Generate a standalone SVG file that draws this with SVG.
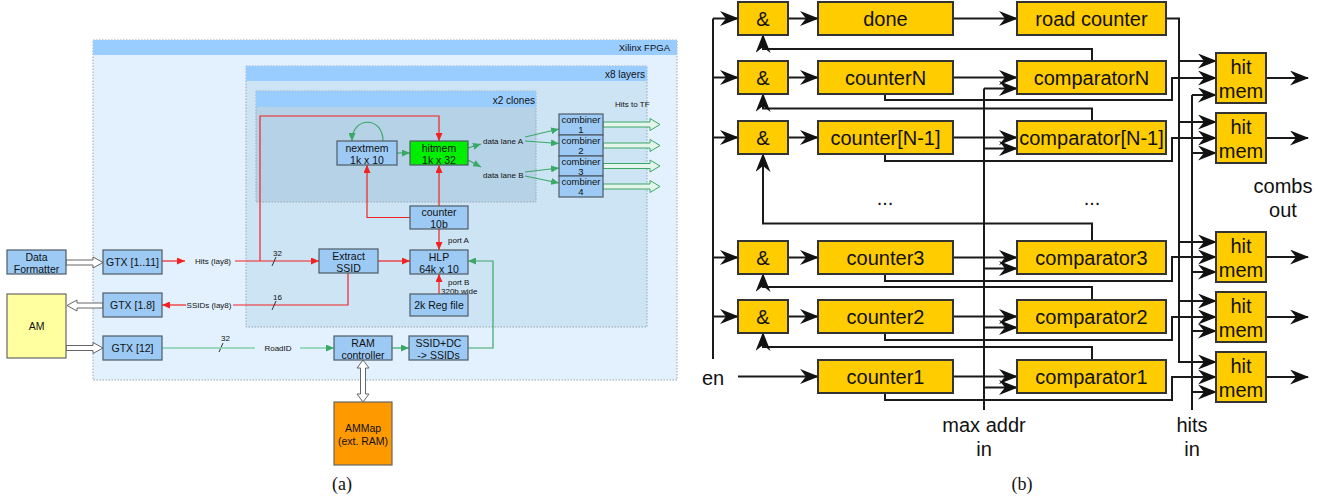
<svg xmlns="http://www.w3.org/2000/svg" width="1330" height="501" viewBox="0 0 1330 501">
<defs>
<style>
.t{font-family:"Liberation Sans",Arial,sans-serif;fill:#111}
.s10{font-size:10.5px;text-anchor:middle}
.s9{font-size:9.5px;text-anchor:middle}
.s8{font-size:8px}
.s20{font-size:20px;text-anchor:middle}
.blk{fill:#9ccaf5;stroke:#4f5b66;stroke-width:1.2}
.cont{stroke:#9aa6b0;stroke-width:1;stroke-dasharray:1.5,1.5}
.hdr{fill:#99ccff}
.red{fill:none;stroke:#f22222;stroke-width:1.2}
.grn{fill:none;stroke:#3aa866;stroke-width:1.2}
.lgr{fill:none;stroke:#80d0aa;stroke-width:1.6}
.dark{fill:none;stroke:#333;stroke-width:1}
.hol{fill:#fff;stroke:#666;stroke-width:1}
.holg{fill:#e6f5ec;stroke:#3aa866;stroke-width:1}
.yb{fill:#ffcc00;stroke:#333;stroke-width:2}
.bl{fill:none;stroke:#1a1a1a;stroke-width:2}
.cap{font-family:"Liberation Serif","Times New Roman",serif;font-size:18px;text-anchor:middle;fill:#111}
</style>
<marker id="ar" markerUnits="userSpaceOnUse" markerWidth="8" markerHeight="7" refX="8" refY="3.5" orient="auto"><path d="M0,0 L8,3.5 L0,7 z" fill="#f22222"/></marker>
<marker id="ag" markerUnits="userSpaceOnUse" markerWidth="8" markerHeight="7" refX="8" refY="3.5" orient="auto"><path d="M0,0 L8,3.5 L0,7 z" fill="#3aa866"/></marker>
<marker id="ab" markerUnits="userSpaceOnUse" markerWidth="19" markerHeight="15" refX="18" refY="7.5" orient="auto"><path d="M0,0 L19,7.5 L0,15 L6,7.5 z" fill="#111"/></marker>
</defs>
<rect width="1330" height="501" fill="#fff"/>

<!-- ===== (a) containers ===== -->
<g id="fpga">
<rect x="93" y="40" width="584" height="340" fill="#e2f1fd" class="cont"/>
<rect x="93" y="40" width="584" height="15" class="hdr"/>
<text class="t" x="670" y="51" font-size="9.5" text-anchor="end">Xilinx FPGA</text>
</g>
<g id="x8layers">
<rect x="246" y="66" width="401" height="261" fill="#cce4f4" class="cont"/>
<rect x="246" y="66" width="401" height="15" class="hdr"/>
<text class="t" x="645" y="78" font-size="10" text-anchor="end">x8 layers</text>
</g>
<g id="x2clones">
<rect x="256" y="91" width="280" height="111" fill="#b5d2e6" class="cont"/>
<rect x="256" y="91" width="280" height="16" class="hdr"/>
<text class="t" x="535" y="103.5" font-size="10" text-anchor="end">x2 clones</text>
</g>

<!-- ===== (a) connectors ===== -->
<g id="connectors-a">
<path class="red" d="M162,261 H185" marker-end="url(#ar)"/>
<path class="red" d="M235,261 H319" marker-end="url(#ar)"/>
<path class="red" d="M260,261 V116 H439 V141" marker-end="url(#ar)"/>
<path class="red" d="M378,261 H410" marker-end="url(#ar)"/>
<path class="red" d="M348,273 V305 H233"/>
<path class="red" d="M186,305 H162" marker-end="url(#ar)"/>
<path class="red" d="M439,229 V250" marker-end="url(#ar)"/>
<path class="red" d="M439,206 V165" marker-end="url(#ar)"/>
<path class="red" d="M410,217.5 H367 V165" marker-end="url(#ar)"/>
<path class="red" d="M439,294 V274" marker-end="url(#ar)"/>
<path class="dark" d="M272,266 L276,257"/>
<path class="dark" d="M272,310 L276,301"/>
<path class="dark" d="M219,352 L223,343"/>
<path class="grn" d="M397,153 H410" marker-end="url(#ag)"/>
<path class="grn" d="M383,141 C383,116 352,116 352,141" marker-end="url(#ag)"/>
<path class="grn" d="M468,148 L481,144" marker-end="url(#ag)"/>
<path class="grn" d="M468,160 L481,167" marker-end="url(#ag)"/>
<path class="grn" d="M525,137 L559,129" marker-end="url(#ag)"/>
<path class="grn" d="M525,141 L559,143.5" marker-end="url(#ag)"/>
<path class="grn" d="M525,172 L559,168" marker-end="url(#ag)"/>
<path class="grn" d="M525,176 L559,183" marker-end="url(#ag)"/>
<path class="grn" d="M468,348 H493 V261 H468" marker-end="url(#ag)"/>
<path class="grn" d="M392,348 H409" marker-end="url(#ag)"/>
<path class="lgr" d="M162,348 H255"/>
<path class="lgr" d="M300,348 H334" marker-end="url(#ag)"/>
<polygon class="hol" points="66,260 93,260 93,257 103,262.5 93,268 93,265 66,265"/>
<polygon class="hol" points="103,303 77,303 77,300 67,305.5 77,311 77,308 103,308"/>
<polygon class="hol" points="66,345.5 93,345.5 93,342.5 103,348 93,353.5 93,350.5 66,350.5"/>
<polygon class="hol" points="363,360 369,368 365.5,368 365.5,394 369,394 363,402 357,394 360.5,394 360.5,368 357,368"/>
<polygon class="holg" points="603,122 650,122 650,118.5 660,124.5 650,130.5 650,127 603,127"/>
<polygon class="holg" points="603,143 650,143 650,139.5 660,145.5 650,151.5 650,148 603,148"/>
<polygon class="holg" points="603,163.5 650,163.5 650,160 660,166 650,172 650,168.5 603,168.5"/>
<polygon class="holg" points="603,184 650,184 650,180.5 660,186.5 650,192.5 650,189 603,189"/>
<text class="t s8" x="213" y="264" text-anchor="middle">Hits (lay8)</text>
<text class="t s8" x="209" y="308" text-anchor="middle">SSIDs (lay8)</text>
<text class="t s8" x="278" y="351" text-anchor="middle">RoadID</text>
<text class="t s8" x="273" y="256">32</text>
<text class="t s8" x="273" y="300">16</text>
<text class="t s8" x="221" y="341">32</text>
<text class="t s8" x="448" y="243">port A</text>
<text class="t s8" x="448" y="285">port B</text>
<text class="t s8" x="441" y="294">320b wide</text>
<text class="t s8" x="483" y="144">data lane A</text>
<text class="t s8" x="483" y="178">data lane B</text>
<text class="t s8" x="615" y="107">Hits to TF</text>
</g>

<!-- ===== (a) nodes ===== -->
<g id="dataformatter"><rect class="blk" x="7" y="250" width="59" height="24"/><text class="t s10" x="36.5" y="260.5">Data</text><text class="t s10" x="36.5" y="272.5">Formatter</text></g>
<g id="gtx1-11"><rect class="blk" x="103" y="250" width="59" height="24"/><text class="t s10" x="132.5" y="266">GTX [1..11]</text></g>
<g id="am"><rect x="7" y="294" width="59" height="64" fill="#ffffa0" stroke="#666" stroke-width="1.2"/><text class="t s10" x="36.5" y="330">AM</text></g>
<g id="gtx1-8"><rect class="blk" x="103" y="293" width="59" height="24"/><text class="t s10" x="132.5" y="309">GTX [1.8]</text></g>
<g id="gtx12"><rect class="blk" x="103" y="336" width="59" height="24"/><text class="t s10" x="132.5" y="352">GTX [12]</text></g>
<g id="extractssid"><rect class="blk" x="319" y="249" width="59" height="24"/><text class="t s10" x="348.5" y="259.5">Extract</text><text class="t s10" x="348.5" y="271.5">SSID</text></g>
<g id="hlp"><rect class="blk" x="410" y="250" width="58" height="24"/><text class="t s10" x="439" y="260.5">HLP</text><text class="t s10" x="439" y="272.5">64k x 10</text></g>
<g id="regfile"><rect class="blk" x="410" y="294" width="58" height="22"/><text class="t s10" x="439" y="309">2k Reg file</text></g>
<g id="counter10b"><rect class="blk" x="410" y="206" width="58" height="23"/><text class="t s10" x="439" y="216">counter</text><text class="t s10" x="439" y="228">10b</text></g>
<g id="nextmem"><rect class="blk" x="337" y="141" width="60" height="24"/><text class="t s10" x="367" y="151.5">nextmem</text><text class="t s10" x="367" y="163.5">1k x 10</text></g>
<g id="hitmem"><rect x="410" y="141" width="58" height="24" fill="#00ee00" stroke="#4f5b66" stroke-width="1.2"/><text class="t s10" x="439" y="151.5">hitmem</text><text class="t s10" x="439" y="163.5">1k x 32</text></g>
<g id="ramcontroller"><rect class="blk" x="334" y="336" width="58" height="24"/><text class="t s10" x="363" y="346.5">RAM</text><text class="t s10" x="363" y="358.5">controller</text></g>
<g id="ssiddc"><rect class="blk" x="409" y="336" width="59" height="24"/><text class="t s10" x="438.5" y="346.5">SSID+DC</text><text class="t s10" x="438.5" y="358.5">-&gt; SSIDs</text></g>
<g id="ammap"><rect x="334" y="402" width="58" height="63" fill="#ff9900" stroke="#666" stroke-width="1.2"/><text class="t s10" x="363" y="432">AMMap</text><text class="t s10" x="363" y="444.5">(ext. RAM)</text></g>
<g id="combiner1"><rect class="blk" x="559" y="114" width="44" height="21"/><text class="t s9" x="581" y="122.5">combiner</text><text class="t s9" x="581" y="133">1</text></g>
<g id="combiner2"><rect class="blk" x="559" y="135" width="44" height="21"/><text class="t s9" x="581" y="143.5">combiner</text><text class="t s9" x="581" y="154">2</text></g>
<g id="combiner3"><rect class="blk" x="559" y="156" width="44" height="20"/><text class="t s9" x="581" y="164.5">combiner</text><text class="t s9" x="581" y="174.5">3</text></g>
<g id="combiner4"><rect class="blk" x="559" y="176" width="44" height="21"/><text class="t s9" x="581" y="184.5">combiner</text><text class="t s9" x="581" y="195">4</text></g>
<text class="cap" x="342" y="490">(a)</text>

<!-- ===== (b) connectors ===== -->
<g id="connectors-b">
<path class="bl" d="M713,18.5 V359"/>
<path class="bl" d="M713,18.5 H738" marker-end="url(#ab)"/>
<path class="bl" d="M713,77.5 H738" marker-end="url(#ab)"/>
<path class="bl" d="M713,137.5 H738" marker-end="url(#ab)"/>
<path class="bl" d="M713,257.5 H738" marker-end="url(#ab)"/>
<path class="bl" d="M713,316.5 H738" marker-end="url(#ab)"/>
<path class="bl" d="M738,376.5 H818" marker-end="url(#ab)"/>
<path class="bl" d="M788,18.5 H818" marker-end="url(#ab)"/>
<path class="bl" d="M788,77.5 H818" marker-end="url(#ab)"/>
<path class="bl" d="M788,137.5 H818" marker-end="url(#ab)"/>
<path class="bl" d="M788,257.5 H818" marker-end="url(#ab)"/>
<path class="bl" d="M788,316.5 H818" marker-end="url(#ab)"/>
<path class="bl" d="M953,18.5 H1017" marker-end="url(#ab)"/>
<path class="bl" d="M953,77.5 H1017" marker-end="url(#ab)"/>
<path class="bl" d="M953,137.5 H1017" marker-end="url(#ab)"/>
<path class="bl" d="M953,257.5 H1017" marker-end="url(#ab)"/>
<path class="bl" d="M953,316.5 H1017" marker-end="url(#ab)"/>
<path class="bl" d="M953,376.5 H1017" marker-end="url(#ab)"/>
<path class="bl" d="M984,88.5 V410"/>
<path class="bl" d="M984,88.5 H1017" marker-end="url(#ab)"/>
<path class="bl" d="M984,148.5 H1017" marker-end="url(#ab)"/>
<path class="bl" d="M984,268.5 H1017" marker-end="url(#ab)"/>
<path class="bl" d="M984,327.5 H1017" marker-end="url(#ab)"/>
<path class="bl" d="M984,387.5 H1017" marker-end="url(#ab)"/>
<path class="bl" d="M1092,61 V49 H763 V35" marker-end="url(#ab)"/>
<path class="bl" d="M1092,121 V108.5 H763 V94" marker-end="url(#ab)"/>
<path class="bl" d="M1092,241 V223.5 H763 V154" marker-end="url(#ab)"/>
<path class="bl" d="M1092,300 V287 H763 V274" marker-end="url(#ab)"/>
<path class="bl" d="M1092,360 V347 H763 V333" marker-end="url(#ab)"/>
<path class="bl" d="M885,94 V100 H1172 V78 H1216" marker-end="url(#ab)"/>
<path class="bl" d="M885,154 V161 H1172 V138 H1216" marker-end="url(#ab)"/>
<path class="bl" d="M885,274 V281 H1172 V257 H1216" marker-end="url(#ab)"/>
<path class="bl" d="M885,333 V340 H1172 V317 H1216" marker-end="url(#ab)"/>
<path class="bl" d="M885,393 V400 H1172 V377 H1216" marker-end="url(#ab)"/>
<path class="bl" d="M1166,18.5 H1179 V362 H1216" marker-end="url(#ab)"/>
<path class="bl" d="M1179,61 H1216" marker-end="url(#ab)"/>
<path class="bl" d="M1179,122 H1216" marker-end="url(#ab)"/>
<path class="bl" d="M1179,242 H1216" marker-end="url(#ab)"/>
<path class="bl" d="M1179,301 H1216" marker-end="url(#ab)"/>
<path class="bl" d="M1192,95 V410"/>
<path class="bl" d="M1192,95 H1216" marker-end="url(#ab)"/>
<path class="bl" d="M1192,153 H1216" marker-end="url(#ab)"/>
<path class="bl" d="M1192,272 H1216" marker-end="url(#ab)"/>
<path class="bl" d="M1192,331 H1216" marker-end="url(#ab)"/>
<path class="bl" d="M1192,392 H1216" marker-end="url(#ab)"/>
<path class="bl" d="M1266,78 H1308" marker-end="url(#ab)"/>
<path class="bl" d="M1266,138 H1308" marker-end="url(#ab)"/>
<path class="bl" d="M1266,257 H1308" marker-end="url(#ab)"/>
<path class="bl" d="M1266,317 H1308" marker-end="url(#ab)"/>
<path class="bl" d="M1266,377 H1308" marker-end="url(#ab)"/>
</g>

<!-- ===== (b) nodes ===== -->
<g id="and0"><rect class="yb" x="738" y="2" width="50" height="33"/><text class="t s20" x="763" y="25.5">&amp;</text></g>
<g id="done"><rect class="yb" x="818" y="2" width="135" height="33"/><text class="t s20" x="885.5" y="25.5">done</text></g>
<g id="roadcounter"><rect class="yb" x="1017" y="2" width="149" height="33"/><text class="t s20" x="1091.5" y="25.5">road counter</text></g>
<g id="and1"><rect class="yb" x="738" y="61" width="50" height="33"/><text class="t s20" x="763" y="84.5">&amp;</text></g>
<g id="counterN"><rect class="yb" x="818" y="61" width="135" height="33"/><text class="t s20" x="885.5" y="84.5">counterN</text></g>
<g id="comparatorN"><rect class="yb" x="1017" y="61" width="149" height="33"/><text class="t s20" x="1091.5" y="84.5">comparatorN</text></g>
<g id="and2"><rect class="yb" x="738" y="121" width="50" height="33"/><text class="t s20" x="763" y="144.5">&amp;</text></g>
<g id="counterNm1"><rect class="yb" x="818" y="121" width="135" height="33"/><text class="t s20" x="885.5" y="144.5">counter[N-1]</text></g>
<g id="comparatorNm1"><rect class="yb" x="1017" y="121" width="149" height="33"/><text class="t s20" x="1091.5" y="144.5">comparator[N-1]</text></g>
<g id="and3"><rect class="yb" x="738" y="241" width="50" height="33"/><text class="t s20" x="763" y="264.5">&amp;</text></g>
<g id="counter3"><rect class="yb" x="818" y="241" width="135" height="33"/><text class="t s20" x="885.5" y="264.5">counter3</text></g>
<g id="comparator3"><rect class="yb" x="1017" y="241" width="149" height="33"/><text class="t s20" x="1091.5" y="264.5">comparator3</text></g>
<g id="and4"><rect class="yb" x="738" y="300" width="50" height="33"/><text class="t s20" x="763" y="323.5">&amp;</text></g>
<g id="counter2"><rect class="yb" x="818" y="300" width="135" height="33"/><text class="t s20" x="885.5" y="323.5">counter2</text></g>
<g id="comparator2"><rect class="yb" x="1017" y="300" width="149" height="33"/><text class="t s20" x="1091.5" y="323.5">comparator2</text></g>
<g id="counter1"><rect class="yb" x="818" y="360" width="135" height="33"/><text class="t s20" x="885.5" y="383.5">counter1</text></g>
<g id="comparator1"><rect class="yb" x="1017" y="360" width="149" height="33"/><text class="t s20" x="1091.5" y="383.5">comparator1</text></g>
<g id="hitmem1"><rect class="yb" x="1216" y="53" width="50" height="50"/><text class="t s20" x="1241" y="74">hit</text><text class="t s20" x="1241" y="98">mem</text></g>
<g id="hitmem2"><rect class="yb" x="1216" y="113" width="50" height="50"/><text class="t s20" x="1241" y="134">hit</text><text class="t s20" x="1241" y="158">mem</text></g>
<g id="hitmem3"><rect class="yb" x="1216" y="232" width="50" height="50"/><text class="t s20" x="1241" y="253">hit</text><text class="t s20" x="1241" y="277">mem</text></g>
<g id="hitmem4"><rect class="yb" x="1216" y="292" width="50" height="50"/><text class="t s20" x="1241" y="313">hit</text><text class="t s20" x="1241" y="337">mem</text></g>
<g id="hitmem5"><rect class="yb" x="1216" y="352" width="50" height="50"/><text class="t s20" x="1241" y="373">hit</text><text class="t s20" x="1241" y="397">mem</text></g>
<g id="labels-b">
<text class="t s20" x="713" y="385">en</text>
<text class="t s20" x="885" y="205" font-size="18">...</text>
<text class="t s20" x="1092" y="205" font-size="18">...</text>
<text class="t s20" x="1283" y="193">combs</text>
<text class="t s20" x="1283" y="217">out</text>
<text class="t s20" x="984" y="432">max addr</text>
<text class="t s20" x="984" y="456">in</text>
<text class="t s20" x="1192" y="432">hits</text>
<text class="t s20" x="1192" y="456">in</text>
</g>
<text class="cap" x="1022" y="490">(b)</text>
</svg>
